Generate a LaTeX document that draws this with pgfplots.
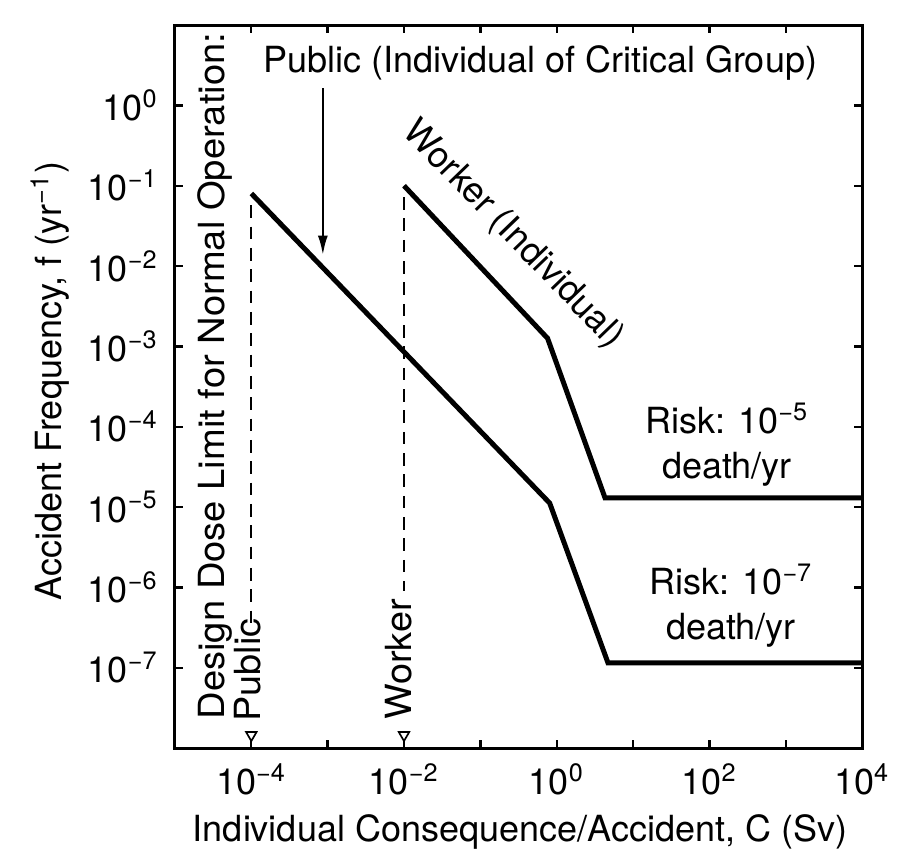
\documentclass[border=0pt]{standalone}
\usepackage{fontspec}
\setmainfont{TeX Gyre Heros}
\usepackage{pgfplots}
\pgfplotsset{compat=1.18}
\usetikzlibrary{arrows.meta}
\newcommand{\tp}[1]{10\textsuperscript{#1}}
\newcommand{\px}[2]{([shift={({(#1-175)*0.3pt},{(748-#2)*0.3pt})}]ax.south west)}

\begin{document}
\begin{tikzpicture}[font=\fontsize{10.8}{13}\selectfont]
\begin{axis}[name=ax, scale only axis, width=206.1pt, height=216.9pt,
 xmode=log, ymode=log, xmin=1e-5, xmax=1e4, ymin=1e-8, ymax=10,
 xminorticks=false, yminorticks=false,
 axis line style={line width=0.9pt},
 tick align=inside, tick pos=both, major tick length=2.4pt,
 tick style={black, line width=0.7pt},
 xtick={1e-4,1e-3,1e-2,1e-1,1,10,100,1000,10000},
 xticklabels={\tp{−4},,\tp{−2},,\tp{0},,\tp{2},,\tp{4}},
 ytick={1e-7,1e-6,1e-5,1e-4,1e-3,1e-2,1e-1,1},
 yticklabels={\tp{−7},\tp{−6},\tp{−5},\tp{−4},\tp{−3},\tp{−2},\tp{−1},\tp{0}},
 xticklabel style={yshift=-1pt},
 yticklabel style={xshift=-1.5pt},
 clip=false,
]
% Public (individual of critical group)
\addplot[black, line width=1.5pt] coordinates {(1e-4,0.08) (0.81,1.12e-5) (4.7,1.15e-7) (1e4,1.15e-7)};
% Worker (individual)
\addplot[black, line width=1.5pt] coordinates {(1e-2,0.1) (0.76,1.26e-3) (4.3,1.3e-5) (1e4,1.3e-5)};
% design dose limits (dashed)
\addplot[black, line width=0.6pt, dash pattern=on 3.8pt off 2.6pt] coordinates {(1e-4,0.057) (1e-4,3.5e-7)};
\addplot[black, line width=0.6pt, dash pattern=on 3.8pt off 2.6pt] coordinates {(1e-2,0.072) (1e-2,9e-7)};
% markers on x axis
\addplot[black, line width=0.6pt] coordinates {(1e-4,1e-8) (1e-4,1.3e-8)};
\addplot[black, line width=0.6pt] coordinates {(1e-2,1e-8) (1e-2,1.3e-8)};
\addplot[only marks, mark=triangle*, mark size=1.8pt, mark options={rotate=180, fill=white, draw=black, line width=0.5pt}] coordinates {(1e-4,1.45e-8) (1e-2,1.45e-8)};
% arrow
\draw[black, line width=0.8pt, -{Latex[length=6pt,width=3pt]}] (axis cs:8.65e-4,1.64) -- (axis cs:8.65e-4,0.0135);
\end{axis}
\node at \px{540}{63} {Public (Individual of Critical Group)};
\node[rotate=-46] at \px{513}{235} {Worker (Individual)};
\node[align=center, font=\fontsize{10.8}{13.5}\selectfont] at \px{727}{445} {Risk: \tp{−5}\\death/yr};
\node[align=center, font=\fontsize{10.8}{13.5}\selectfont] at \px{731}{606} {Risk: \tp{−7}\\death/yr};
\node[rotate=90, anchor=west, inner sep=0pt] at \px{215}{720} {\scalebox{1.06}[1]{Design Dose Limit for Normal Operation:}};
\node[rotate=90, anchor=west, inner sep=0pt] at \px{248}{722} {\scalebox{1.05}[1]{Public}};
\node[rotate=90, anchor=west, inner sep=0pt] at \px{399}{720} {\scalebox{1.05}[1]{Worker}};
\node[rotate=90] at \px{50}{381} {Accident Frequency, f (yr\textsuperscript{−1})};
\node at \px{520}{832} {Individual Consequence/Accident, C (Sv)};
\pgfresetboundingbox
\path \px{0}{0} rectangle \px{901}{854};
\end{tikzpicture}
\end{document}
